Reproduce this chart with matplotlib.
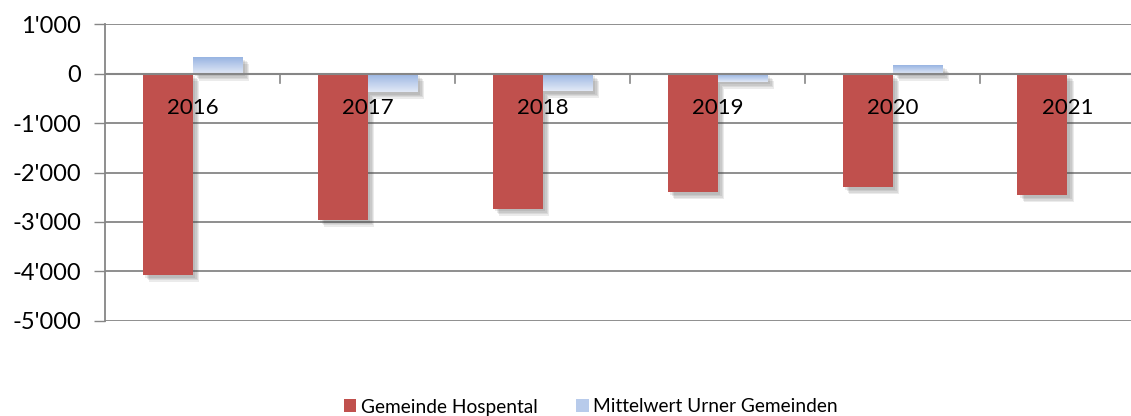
import matplotlib
matplotlib.use("Agg")
import matplotlib.pyplot as plt
import matplotlib.patheffects as pe
import matplotlib.ticker as mticker
from matplotlib.patches import Patch
import numpy as np

years = ["2016", "2017", "2018", "2019", "2020", "2021"]
hospental = [-4070, -2960, -2730, -2400, -2295, -2455]
mittelwert = [340, -365, -345, -160, 175, 0]
yticks = [1000, 0, -1000, -2000, -3000, -4000, -5000]

RED = "#C0504D"
BLUE_TOP = "#98B4E2"
BLUE_BOT = "#E2E9F6"
GRID = "#868686"

plt.rcParams['font.family'] = ['Lato', 'DejaVu Sans']

fig = plt.figure(figsize=(11.31, 4.16), dpi=100)
ax = fig.add_axes([105/1131, 1 - 320.7/416, 1050/1131, 296.4/416])

x = np.arange(len(years))
w = 50/175
shadow = [pe.SimplePatchShadow(offset=(o, -o), shadow_rgbFace="#404040", alpha=0.10)
          for o in (5, 4, 3, 2)] + [pe.Normal()]

rb = ax.bar(x - w/2, hospental, width=w, color=RED, zorder=3)
bb = ax.bar(x + w/2, mittelwert, width=w, color=BLUE_TOP, zorder=3)
for p in list(rb) + list(bb):
    if p.get_height() != 0:
        p.set_path_effects(shadow)

# gradient fill for blue bars
cmap = matplotlib.colors.LinearSegmentedColormap.from_list("g", [BLUE_TOP, BLUE_BOT])
grad = np.linspace(0, 1, 64).reshape(-1, 1)
for p in bb:
    h = p.get_height()
    if h == 0:
        continue
    x0 = p.get_x(); x1 = x0 + p.get_width()
    y0, y1 = sorted([p.get_y(), p.get_y() + h])
    im = ax.imshow(grad, cmap=cmap, extent=[x0, x1, y0, y1], origin="upper",
                   aspect="auto", zorder=3.5, interpolation="bilinear")
    im.set_clip_path(p)

ax.set_xlim(-0.5, len(years) - 0.5)
ax.set_ylim(-5000, 1000)
ax.set_yticks(yticks)
ax.yaxis.set_major_formatter(mticker.FuncFormatter(
    lambda v, pos: f"{int(v):,}".replace(",", "'")))
ax.tick_params(axis="y", length=8, width=1, color=GRID, pad=9, labelsize=17, labelcolor="black")
ax.grid(axis="y", color=GRID, linewidth=1.3, zorder=0)
ax.set_axisbelow(True)

ax.set_xticks(np.arange(len(years) + 1) - 0.5)
ax.set_xticklabels([])
ax.tick_params(axis="x", length=0)

for s in ["top", "right", "bottom"]:
    ax.spines[s].set_visible(False)
ax.spines["left"].set_color(GRID)
ax.spines["left"].set_linewidth(1.3)

# zero axis line with ticks downward
ax.axhline(0, color=GRID, linewidth=1.5, zorder=4)
for b in np.arange(1, len(years)) - 0.5:
    ax.plot([b, b], [0, -180], color=GRID, linewidth=1.2, zorder=4)

for xi, yr in zip(x, years):
    ax.text(xi, -700, yr, ha="center", va="center", fontsize=16, color="black", zorder=6)

handles = [Patch(facecolor=RED, edgecolor="none"), Patch(facecolor="#B8CBEB", edgecolor="none")]
fig.legend(handles, ["Gemeinde Hospental", "Mittelwert Urner Gemeinden"],
           loc="center", bbox_to_anchor=(591/1131, 1 - 407/416), ncol=2, frameon=False,
           fontsize=13.8, handlelength=0.65, handleheight=0.65, handletextpad=0.25, columnspacing=2.0)

fig.savefig("out.png", dpi=100)
